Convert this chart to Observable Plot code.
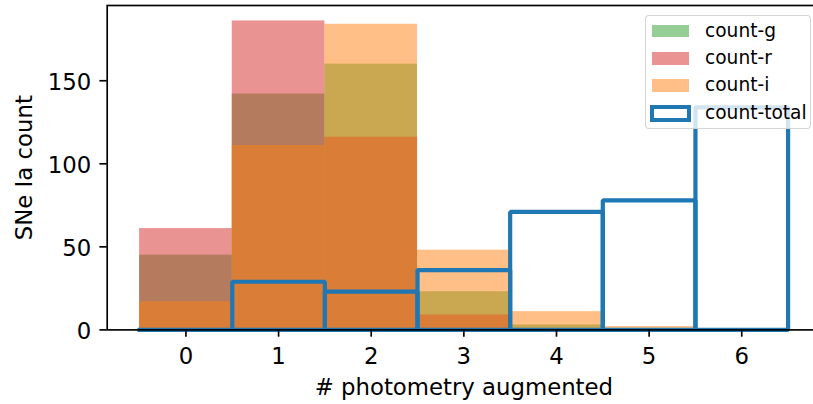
<!DOCTYPE html>
<html><head><meta charset="utf-8">
<script src="https://cdn.jsdelivr.net/npm/d3@7"></script>
<script src="https://cdn.jsdelivr.net/npm/@observablehq/plot@0.6"></script>
<style>
html,body{margin:0;padding:0;overflow:hidden;background:#fff;}
#wrap{position:relative;width:813px;height:404px;font-family:"DejaVu Sans",sans-serif;overflow:hidden;}
#legend{position:absolute;left:645px;top:15px;width:166px;height:114px;box-sizing:border-box;
  background:rgba(255,255,255,0.8);border:1.6px solid rgba(204,204,204,0.8);border-radius:4px;}
.row{position:absolute;left:0;height:20px;width:160px;}
.sw{position:absolute;left:6px;top:3.6px;width:37px;height:12.7px;box-sizing:border-box;}
.lab{position:absolute;left:59px;top:0;line-height:20px;font-size:18.6px;color:#000;white-space:nowrap;}
</style></head><body><div id="wrap"></div>
<script>
const bins = [0, 1, 2, 3, 4, 5, 6];
const countG = [45, 142, 160, 23, 3, 0, 0];
const countR = [61, 186, 116, 9, 0, 0, 0];
const countI = [17, 111, 184, 48, 11, 2, 0];
const countTotal = [0, 29, 23, 36, 71, 78, 134];
const xTicks = [0, 1, 2, 3, 4, 5, 6];
const yTicks = [0, 50, 100, 150];
const seriesNames = ["count-g", "count-r", "count-i", "count-total"];
const seriesColors = ["#2ca02c", "#d62728", "#ff7f0e", "#1f77b4"];

const table = bins.map((b, i) => ({bin: b, g: countG[i], r: countR[i], i: countI[i], total: countTotal[i]}));
// outline path points for each total bar (rectangle outline, matplotlib bar with fill=False)
const outline = table.flatMap(d => [
  {bin: d.bin, x: d.bin - 0.5, y: 0},
  {bin: d.bin, x: d.bin - 0.5, y: d.total},
  {bin: d.bin, x: d.bin + 0.5, y: d.total},
  {bin: d.bin, x: d.bin + 0.5, y: 0},
  {bin: d.bin, x: d.bin - 0.5, y: 0}
]);

const fontSize = 22.8;
const chart = Plot.plot({
  width: 813, height: 404,
  marginLeft: 106.7, marginRight: -7, marginTop: 5, marginBottom: 74.6,
  x: {domain: [-0.85, 6.85]},
  y: {domain: [0, 195.3]},
  style: {fontFamily: "DejaVu Sans", fontSize: fontSize + "px", color: "black", background: "transparent"},
  marks: [
    Plot.rect(table, {x1: d => d.bin - 0.5, x2: d => d.bin + 0.5, y1: () => 0, y2: "g", fill: seriesColors[0], fillOpacity: 0.5}),
    Plot.rect(table, {x1: d => d.bin - 0.5, x2: d => d.bin + 0.5, y1: () => 0, y2: "r", fill: seriesColors[1], fillOpacity: 0.5}),
    Plot.rect(table, {x1: d => d.bin - 0.5, x2: d => d.bin + 0.5, y1: () => 0, y2: "i", fill: seriesColors[2], fillOpacity: 0.5}),
    Plot.line(outline, {x: "x", y: "y", z: "bin", stroke: seriesColors[3], strokeWidth: 4.2, strokeLinejoin: "miter", strokeLinecap: "square"}),
    Plot.frame({stroke: "black", strokeWidth: 1.67}),
    Plot.axisX({ticks: xTicks, tickSize: 7.3, tickPadding: 10.4, strokeWidth: 1.67, label: null, tickFormat: d => String(d), fontSize: fontSize}),
    Plot.axisY({ticks: yTicks, tickSize: 7.3, strokeWidth: 1.67, label: null, tickFormat: () => ""}),
    Plot.text(yTicks, {y: d => d, text: d => String(d), frameAnchor: "left", textAnchor: "end", lineAnchor: "middle", dx: -16, dy: 2.3, fontSize: fontSize}),
    Plot.text(["# photometry augmented"], {text: d => d, frameAnchor: "bottom", textAnchor: "middle", lineAnchor: "middle", dy: 58.3, fontSize: fontSize}),
    Plot.text(["SNe Ia count"], {text: d => d, frameAnchor: "left", textAnchor: "middle", lineAnchor: "middle", rotate: -90, dx: -82.3, fontSize: fontSize})
  ]
});
const wrap = document.getElementById("wrap");
wrap.appendChild(chart);

const legend = document.createElement("div");
legend.id = "legend";
const rowCenters = [15.0, 42.3, 69.3, 97.3];
seriesNames.forEach((name, k) => {
  const row = document.createElement("div");
  row.className = "row";
  row.style.top = (rowCenters[k] - 10) + "px";
  const sw = document.createElement("div");
  sw.className = "sw";
  if (k < 3) {
    sw.style.background = seriesColors[k];
    sw.style.opacity = 0.5;
  } else {
    sw.style.border = "4.2px solid " + seriesColors[3];
    sw.style.background = "white";
    sw.style.left = "4px"; sw.style.top = "1.6px"; sw.style.width = "41px"; sw.style.height = "16.8px";
  }
  const lab = document.createElement("div");
  lab.className = "lab";
  lab.textContent = name;
  row.appendChild(sw); row.appendChild(lab);
  legend.appendChild(row);
});
wrap.appendChild(legend);
</script>
</body></html>
